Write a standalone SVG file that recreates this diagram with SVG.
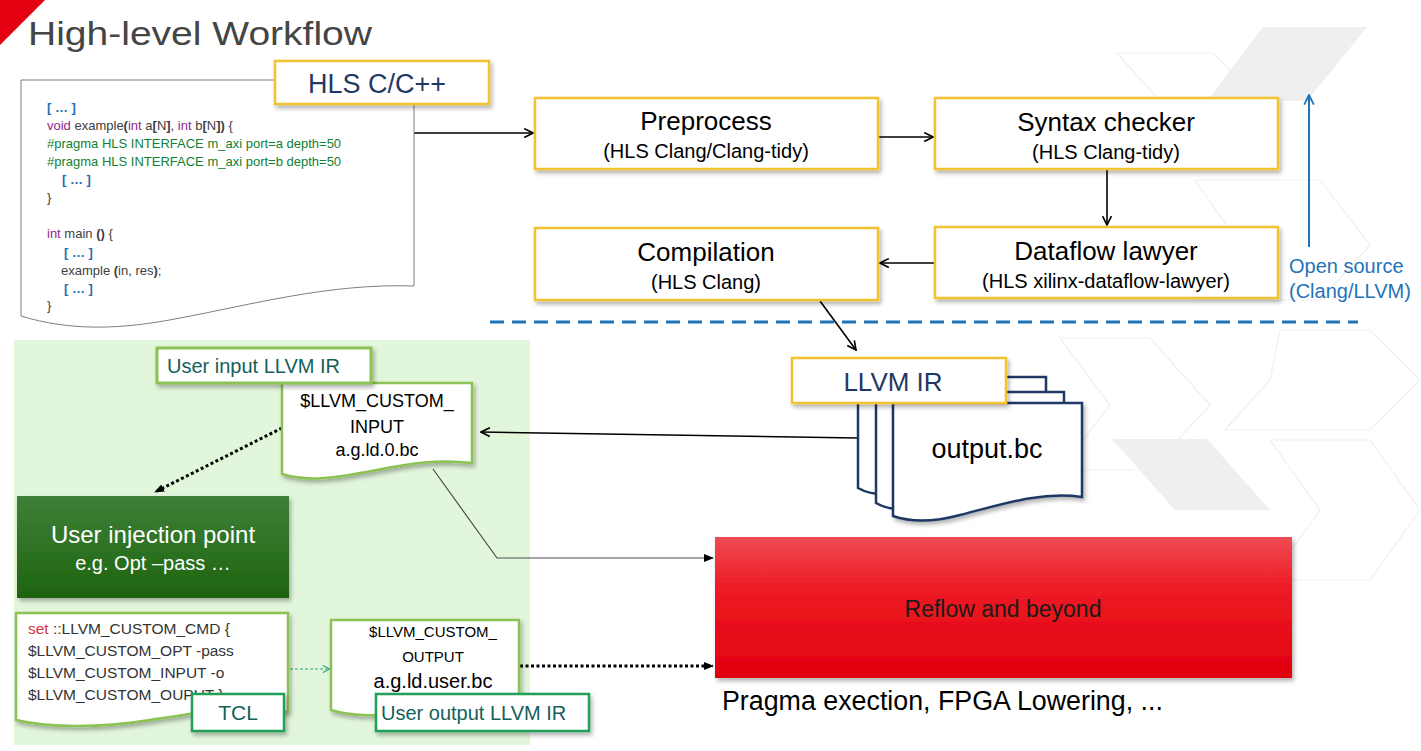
<svg xmlns="http://www.w3.org/2000/svg" width="1421" height="751" viewBox="0 0 1421 751">
<style>
  text { font-family: "Liberation Sans", Arial, sans-serif; }
  .ybox { fill: #ffffff; stroke: #f2c230; stroke-width: 2.5; }
  .t1 { font-size: 26px; fill: #000; text-anchor: middle; }
  .t2 { font-size: 20px; fill: #000; text-anchor: middle; }
  .code { font-size: 13px; fill: #404040; }
  .blue { fill: #1f6fb5; font-weight: bold; }
  .purp { fill: #8b2a8b; }
  .grn { fill: #108035; }
  .b { font-weight: bold; }
  .gdoc { fill: #ffffff; stroke: #8cc152; stroke-width: 2.5; }
  .glabel { fill: #ffffff; stroke: #8cc152; stroke-width: 3; }
  .dlabel { fill: #ffffff; stroke: #23a05a; stroke-width: 2.5; }
  .teal { fill: #14615a; font-size: 20px; }
  .ndoc { fill: #ffffff; stroke: #1f3864; stroke-width: 2.5; }
  .conn { fill: none; stroke: #000; stroke-width: 1.6; }
  .bg { fill: #efefef; }
  .bgl { fill: none; stroke: #efefef; stroke-width: 1.2; }
</style>
<defs>
  <filter id="sh" x="-10%" y="-10%" width="130%" height="140%">
    <feDropShadow dx="2" dy="3" stdDeviation="2" flood-color="#000" flood-opacity="0.3"/>
  </filter>
  <linearGradient id="red" x1="0" y1="0" x2="0" y2="1">
    <stop offset="0" stop-color="#ef4b55"/>
    <stop offset="0.35" stop-color="#ee1c25"/>
    <stop offset="1" stop-color="#e1000e"/>
  </linearGradient>
  <linearGradient id="dg" x1="0" y1="0" x2="0" y2="1">
    <stop offset="0" stop-color="#3f8038"/>
    <stop offset="1" stop-color="#1d640f"/>
  </linearGradient>
  <marker id="open" viewBox="0 0 10 10" refX="9" refY="5" markerWidth="11" markerHeight="11" markerUnits="userSpaceOnUse" orient="auto">
    <path d="M1,1 L9,5 L1,9" fill="none" stroke="#000" stroke-width="1.5"/>
  </marker>
  <marker id="openblue" viewBox="0 0 10 10" refX="9" refY="5" markerWidth="12" markerHeight="12" markerUnits="userSpaceOnUse" orient="auto">
    <path d="M1,1 L9,5 L1,9" fill="none" stroke="#1f74b8" stroke-width="1.5"/>
  </marker>
  <marker id="opengreen" viewBox="0 0 10 10" refX="9" refY="5" markerWidth="9" markerHeight="9" markerUnits="userSpaceOnUse" orient="auto">
    <path d="M1,1 L9,5 L1,9" fill="none" stroke="#2e9e7e" stroke-width="1.2"/>
  </marker>
  <marker id="fill" viewBox="0 0 10 10" refX="9" refY="5" markerWidth="10" markerHeight="10" markerUnits="userSpaceOnUse" orient="auto">
    <path d="M0,1 L10,5 L0,9 Z" fill="#000"/>
  </marker>
</defs>

<rect x="0" y="0" width="1421" height="751" fill="#ffffff"/>

<!-- background chevrons -->
<g id="background">
  <polygon class="bg" points="1263,27 1367,27 1307,101 1207,101"/>
  <polygon class="bg" points="1112,439 1207,439 1270,510 1175,510"/>
  <polygon class="bgl" points="1117,53 1213,53 1260,101 1213,160 1117,160 1160,101"/>
  <polygon class="bgl" points="1195,180 1320,180 1370,245 1320,300 1195,300 1240,245"/>
  <polygon class="bgl" points="1060,338 1150,338 1210,405 1150,470 1060,470 1110,405"/>
  <polygon class="bgl" points="1280,330 1370,330 1420,380 1370,430 1225,430 1270,380"/>
  <polygon class="bgl" points="1270,440 1370,440 1420,510 1370,580 1270,580 1320,510"/>
</g>

<!-- red corner -->
<polygon points="0,0 45,0 0,45" fill="#e3000f"/>
<text x="28" y="45" font-family="'Open Sans', 'Liberation Sans', sans-serif" font-size="33" fill="#454545" textLength="344" lengthAdjust="spacingAndGlyphs">High-level Workflow</text>

<!-- green panel -->
<rect x="14" y="340" width="516" height="405" fill="#e2f6dc"/>

<!-- connectors -->
<g id="connectors">
  <line class="conn" x1="414" y1="133" x2="533" y2="133" marker-end="url(#open)"/>
  <line class="conn" x1="878" y1="137" x2="933" y2="137" marker-end="url(#open)"/>
  <line class="conn" x1="1107" y1="169" x2="1107" y2="225" marker-end="url(#open)"/>
  <line class="conn" x1="935" y1="263" x2="880" y2="263" marker-end="url(#open)"/>
  <line class="conn" x1="820" y1="301" x2="856" y2="350" marker-end="url(#open)"/>
  <line class="conn" x1="858" y1="438" x2="481" y2="432" marker-end="url(#open)"/>
  <polyline fill="none" stroke="#4d4d4d" stroke-width="1.2" points="433,469 497,558 713,558" marker-end="url(#fill)"/>
  <line x1="282" y1="428" x2="155" y2="492" stroke="#000" stroke-width="3" stroke-dasharray="3,2.5" marker-end="url(#fill)"/>
  <line x1="290" y1="669" x2="330" y2="669" stroke="#2e9e7e" stroke-width="1" stroke-dasharray="3,2" marker-end="url(#opengreen)"/>
  <line x1="520" y1="666" x2="713" y2="666" stroke="#000" stroke-width="3" stroke-dasharray="3,2.5" marker-end="url(#fill)"/>
  <line x1="490" y1="322" x2="1358" y2="322" stroke="#1f74b8" stroke-width="3" stroke-dasharray="14,8"/>
  <line x1="1309" y1="247" x2="1309" y2="95" stroke="#1f74b8" stroke-width="2" marker-end="url(#openblue)"/>
</g>

<!-- code document -->
<g id="code-doc">
  <path d="M21,80 H414 V286 C330,283 250,305 180,318 C120,330 70,331 21,316 Z" fill="#ffffff" stroke="#7f7f7f" stroke-width="1"/>
  <text class="code" x="47" y="112"><tspan class="blue">[ … ]</tspan></text>
  <text class="code" x="47" y="130"><tspan class="purp">void</tspan> example<tspan class="b">(</tspan><tspan class="purp">int</tspan> a<tspan class="b">[</tspan>N<tspan class="b">]</tspan>, <tspan class="purp">int</tspan> b<tspan class="b">[</tspan>N<tspan class="b">])</tspan> {</text>
  <text class="code grn" x="47" y="148">#pragma HLS INTERFACE m_axi port=a depth=50</text>
  <text class="code grn" x="47" y="166">#pragma HLS INTERFACE m_axi port=b depth=50</text>
  <text class="code" x="62" y="184"><tspan class="blue">[ … ]</tspan></text>
  <text class="code" x="47" y="202">}</text>
  <text class="code" x="47" y="238"><tspan class="purp">int</tspan> main <tspan class="b">()</tspan> {</text>
  <text class="code" x="64" y="257"><tspan class="blue">[ … ]</tspan></text>
  <text class="code" x="61" y="275">example <tspan class="b">(</tspan>in, res<tspan class="b">)</tspan>;</text>
  <text class="code" x="64" y="293"><tspan class="blue">[ … ]</tspan></text>
  <text class="code" x="47" y="310">}</text>
</g>

<g id="hls-label">
  <rect class="ybox" x="275" y="61" width="214" height="43" filter="url(#sh)"/>
  <text x="377" y="93" font-size="27" fill="#1f3864" text-anchor="middle">HLS C/C++</text>
</g>

<g id="preprocess">
  <rect class="ybox" x="535" y="98" width="343" height="71" filter="url(#sh)"/>
  <text class="t1" x="706" y="130">Preprocess</text>
  <text class="t2" x="706" y="158">(HLS Clang/Clang-tidy)</text>
</g>

<g id="syntax">
  <rect class="ybox" x="935" y="98" width="343" height="71" filter="url(#sh)"/>
  <text class="t1" x="1106" y="131">Syntax checker</text>
  <text class="t2" x="1106" y="159">(HLS Clang-tidy)</text>
</g>

<g id="dataflow">
  <rect class="ybox" x="935" y="227" width="343" height="71" filter="url(#sh)"/>
  <text class="t1" x="1106" y="260">Dataflow lawyer</text>
  <text class="t2" x="1106" y="288">(HLS xilinx-dataflow-lawyer)</text>
</g>

<g id="compilation">
  <rect class="ybox" x="535" y="228" width="343" height="72" filter="url(#sh)"/>
  <text class="t1" x="706" y="261">Compilation</text>
  <text class="t2" x="706" y="289">(HLS Clang)</text>
</g>

<g id="open-source">
  <text x="1289" y="273" font-size="20" fill="#1f74b8">Open source</text>
  <text x="1289" y="298" font-size="20" fill="#1f74b8">(Clang/LLVM)</text>
</g>

<g id="llvm-ir">
  <path class="ndoc" d="M858,377 H1046 V470 C1000,465 960,480 920,490 C890,497 870,495 858,488 Z"/>
  <path class="ndoc" d="M876,392 H1064 V485 C1018,480 978,495 938,505 C908,512 888,510 876,503 Z"/>
  <path class="ndoc" d="M893,403 H1082 V497 C1040,491 1000,505 960,515 C930,523 910,522 893,516 Z" filter="url(#sh)"/>
  <text x="987" y="458" font-size="27" fill="#000" text-anchor="middle">output.bc</text>
  <rect class="ybox" x="792" y="358" width="214" height="45" filter="url(#sh)"/>
  <text x="893" y="391" font-size="26" fill="#1f3864" text-anchor="middle">LLVM IR</text>
</g>

<g id="user-input">
  <path class="gdoc" d="M282,383 H472 V463 C430,458 400,466 360,473 C330,479 305,481 282,474 Z" filter="url(#sh)"/>
  <text x="377" y="407" font-size="18" fill="#000" text-anchor="middle">$LLVM_CUSTOM_</text>
  <text x="377" y="433" font-size="18" fill="#000" text-anchor="middle">INPUT</text>
  <text x="377" y="456" font-size="18" fill="#000" text-anchor="middle">a.g.ld.0.bc</text>
  <rect class="glabel" x="157" y="348" width="214" height="35" filter="url(#sh)"/>
  <text class="teal" x="167" y="373">User input LLVM IR</text>
</g>

<g id="injection">
  <rect x="17" y="496" width="272" height="102" fill="url(#dg)" filter="url(#sh)"/>
  <text x="153" y="543" font-size="24" fill="#ffffff" text-anchor="middle">User injection point</text>
  <text x="153" y="570" font-size="20" fill="#ffffff" text-anchor="middle">e.g. Opt –pass …</text>
</g>

<g id="tcl">
  <path class="gdoc" d="M16,613 H288 V712 C240,705 200,712 150,720 C100,728 50,728 16,720 Z" filter="url(#sh)"/>
  <text x="28" y="634" font-size="15.5" fill="#333"><tspan fill="#d0343c">set</tspan> ::LLVM_CUSTOM_CMD {</text>
  <text x="28" y="656" font-size="15.5" fill="#333">$LLVM_CUSTOM_OPT -pass</text>
  <text x="28" y="678" font-size="15.5" fill="#333">$LLVM_CUSTOM_INPUT -o</text>
  <text x="28" y="700" font-size="15.5" fill="#333">$LLVM_CUSTOM_OUPUT }</text>
  <rect class="dlabel" x="192" y="694" width="92" height="37" filter="url(#sh)"/>
  <text x="238" y="720" font-size="21" fill="#14615a" text-anchor="middle">TCL</text>
</g>

<g id="user-output">
  <path class="gdoc" d="M331,620 H519 V700 C480,695 450,705 410,712 C380,717 350,716 331,710 Z" filter="url(#sh)"/>
  <text x="433" y="637" font-size="15" fill="#000" text-anchor="middle">$LLVM_CUSTOM_</text>
  <text x="433" y="662" font-size="15" fill="#000" text-anchor="middle">OUTPUT</text>
  <text x="433" y="688" font-size="20" fill="#000" text-anchor="middle">a.g.ld.user.bc</text>
  <rect class="dlabel" x="376" y="694" width="213" height="37" filter="url(#sh)"/>
  <text class="teal" x="381" y="720" font-size="20.5">User output LLVM IR</text>
</g>

<g id="reflow">
  <rect x="715" y="537" width="577" height="141" fill="url(#red)" filter="url(#sh)"/>
  <text x="1003" y="617" font-size="23" fill="#1a1a1a" text-anchor="middle">Reflow and beyond</text>
</g>

<text x="722" y="710" font-size="26.8" fill="#000">Pragma exection, FPGA Lowering, ...</text>
</svg>
